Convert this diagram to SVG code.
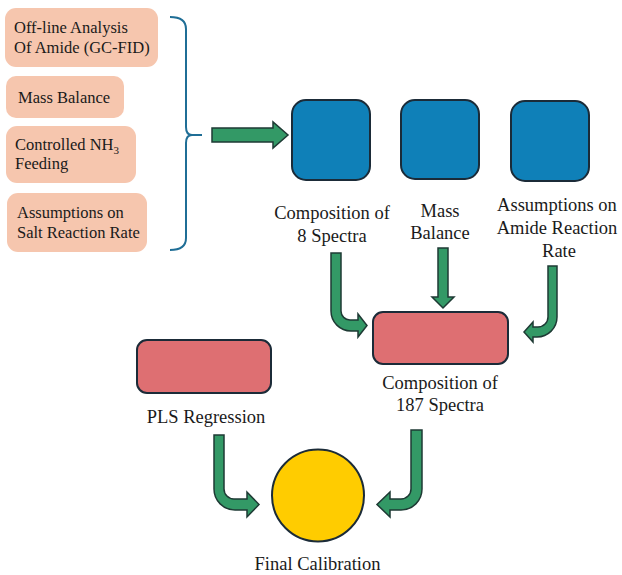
<svg xmlns="http://www.w3.org/2000/svg" width="622" height="575" viewBox="0 0 622 575">
<style>
.src{fill:#F6C6AE;}
.t1{font-family:'Liberation Serif','Times New Roman','DejaVu Serif',serif;font-size:16.5px;fill:#1a1a1a;}
.t2{font-family:'Liberation Serif','Times New Roman','DejaVu Serif',serif;font-size:18.5px;fill:#1a1a1a;text-anchor:middle;}
.blue{fill:#0F80B8;stroke:#1B2B38;stroke-width:2;}
.red{fill:#DE6F72;stroke:#1B2B38;stroke-width:2;}
.yel{fill:#FFCC00;stroke:#1B2B38;stroke-width:2;}
.arr{fill:#339966;stroke:#1E3A34;stroke-width:1.5;stroke-linejoin:miter;}
.brace{fill:none;stroke:#1F6E96;stroke-width:2;}
</style>
<rect width="622" height="575" fill="#ffffff"/>
<g id="src-offline">
<rect class="src" x="5" y="8" width="153" height="59" rx="11"/>
<text class="t1" x="14" y="33" font-family="Liberation Serif, serif">Off-line Analysis</text>
<text class="t1" x="14" y="53" font-family="Liberation Serif, serif">Of Amide (GC-FID)</text>
</g>
<g id="src-mass">
<rect class="src" x="6" y="76" width="118" height="42" rx="10"/>
<text class="t1" x="18" y="103" font-family="Liberation Serif, serif">Mass Balance</text>
</g>
<g id="src-nh3">
<rect class="src" x="6" y="126" width="130" height="57" rx="11"/>
<text class="t1" x="15" y="150" font-family="Liberation Serif, serif">Controlled NH<tspan font-size="11" dy="4">3</tspan></text>
<text class="t1" x="15" y="169" font-family="Liberation Serif, serif">Feeding</text>
</g>
<g id="src-salt">
<rect class="src" x="7" y="193" width="140" height="59" rx="11"/>
<text class="t1" x="17" y="218" font-family="Liberation Serif, serif">Assumptions on</text>
<text class="t1" x="17" y="238" font-family="Liberation Serif, serif">Salt Reaction Rate</text>
</g>
<g id="brace">
<path class="brace" d="M170,17 Q186,17 186,29 V127 Q186,135 192,135 M186,143 Q186,135 192,135 H202 M186,143 V238 Q186,250 170,250"/>
</g>
<g id="comp8">
<rect class="blue" x="292" y="100" width="78" height="80" rx="14"/>
<text class="t2" x="332" y="219" font-family="Liberation Serif, serif">Composition of</text>
<text class="t2" x="332" y="242" font-family="Liberation Serif, serif">8 Spectra</text>
</g>
<g id="massbal">
<rect class="blue" x="401" y="100" width="78" height="79" rx="14"/>
<text class="t2" x="440" y="217" font-family="Liberation Serif, serif">Mass</text>
<text class="t2" x="440" y="239" font-family="Liberation Serif, serif">Balance</text>
</g>
<g id="amide">
<rect class="blue" x="511" y="101" width="78" height="80" rx="14"/>
<text class="t2" x="557" y="211" font-family="Liberation Serif, serif">Assumptions on</text>
<text class="t2" x="557" y="234" font-family="Liberation Serif, serif">Amide Reaction</text>
<text class="t2" x="559" y="257" font-family="Liberation Serif, serif">Rate</text>
</g>
<g id="comp187">
<rect class="red" x="373" y="312" width="135" height="52" rx="10"/>
<text class="t2" x="440" y="389" font-family="Liberation Serif, serif">Composition of</text>
<text class="t2" x="440" y="411" font-family="Liberation Serif, serif">187 Spectra</text>
</g>
<g id="pls">
<rect class="red" x="137" y="340" width="134" height="53" rx="10"/>
<text class="t2" x="206" y="423" font-family="Liberation Serif, serif">PLS Regression</text>
</g>
<g id="final">
<circle class="yel" cx="318" cy="495.5" r="46"/>
<text class="t2" x="317.5" y="570" font-family="Liberation Serif, serif">Final Calibration</text>
</g>
<g id="connectors">
<path class="arr" d="M212,128 H273 V122 L288,135 L273,148 V142 H212 Z"/>
<path class="arr" d="M438,248 H448 V297 H454 L443,308 L432,297 H438 Z"/>
<path class="arr" d="M331,253 H341 V311 A9,9 0 0 0 350,320 H358 V314 L367,325.5 L358,337 V331 H351 A20,20 0 0 1 331,311 Z"/>
<path class="arr" d="M548,266 H557 V317 A20,20 0 0 1 537,337 H533 V342 L524,332 L533,322 V327 H538 A10,10 0 0 0 548,317 Z"/>
<path class="arr" d="M214,435 H224 V489 A10,10 0 0 0 234,499 H247 V492 L259,504.5 L247,517 V510 H235 A21,21 0 0 1 214,489 Z"/>
<path class="arr" d="M411,430 H422 V489 A21,21 0 0 1 401,510 H390 V517 L377,504.5 L390,492 V499 H401 A10,10 0 0 0 411,489 Z"/>
</g>
</svg>
